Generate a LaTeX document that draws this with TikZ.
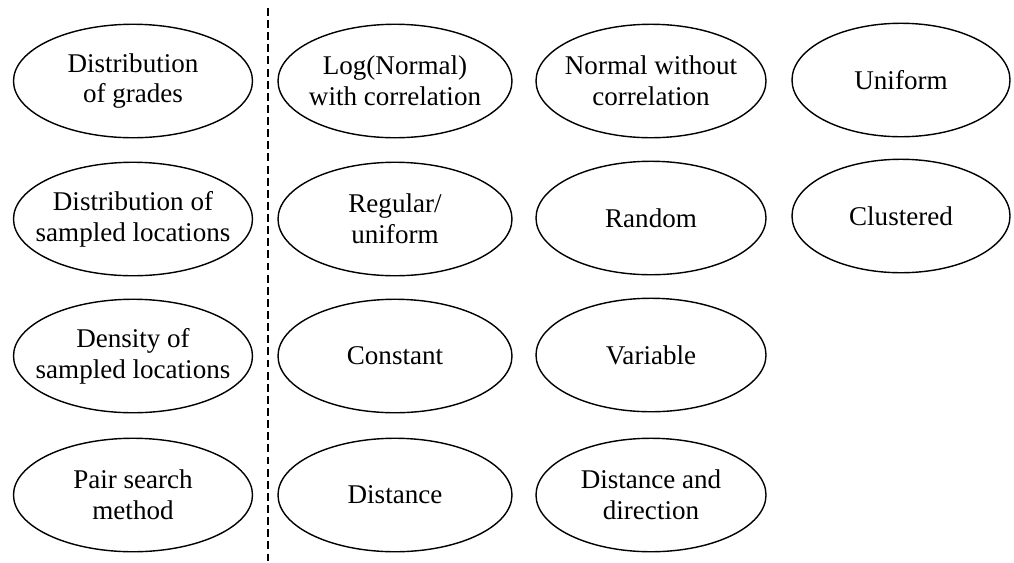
\documentclass[tikz,border=0pt]{standalone}
\usepackage{fontspec}
\setmainfont{Liberation Serif}
\usetikzlibrary{shapes.geometric}
\begin{document}
\begin{tikzpicture}[x=0.02cm,y=-0.02cm,
  oval/.style={draw, ellipse, line width=0.8pt, inner sep=0pt, minimum width=#1*0.02cm, minimum height=2.27cm},
  oval/.default=236,
  lbl/.style={align=center, font=\fontsize{15.4}{17.6}\selectfont, inner sep=0pt},
  divider/.style={line width=0.8pt, dash pattern=on 4.5pt off 2.4pt}]
\useasboundingbox (0,0) rectangle (1014,562);
% column 1
\node[oval=239, label={[lbl]center:Distribution\\of grades}] (a1) at (133,81) {};
\node[oval=239, label={[lbl]center:Distribution of\\sampled locations}] (a2) at (133,219) {};
\node[oval=239, label={[lbl]center:Density of\\sampled locations}] (a3) at (133,356) {};
\node[oval=239, label={[lbl]center:Pair search\\method}] (a4) at (133,495) {};
% divider
\coordinate (dtop) at (268,8);
\coordinate (dbot) at (268,562);
\draw[divider] (dtop) -- (dbot);
% column 2
\node[oval=234, label={[lbl]center:Log(Normal)\\with correlation}] (b1) at (395,81) {};
\node[oval=234, label={[lbl]center:Regular/\\uniform}] (b2) at (395,219) {};
\node[oval=234, label={[lbl]center:Constant}] (b3) at (395,356) {};
\node[oval=234, label={[lbl]center:Distance}] (b4) at (395,495) {};
% column 3
\node[oval=230, label={[lbl]center:Normal without\\correlation}] (c1) at (651,81) {};
\node[oval=230, label={[lbl]center:Random}] (c2) at (651,218) {};
\node[oval=230, label={[lbl]center:Variable}] (c3) at (651,355) {};
\node[oval=230, label={[lbl]center:Distance and\\direction}] (c4) at (651,495) {};
% column 4
\node[oval=218, label={[lbl]center:Uniform}] (d1) at (901,80) {};
\node[oval=218, label={[lbl]center:Clustered}] (d2) at (901,216) {};
\end{tikzpicture}
\end{document}
